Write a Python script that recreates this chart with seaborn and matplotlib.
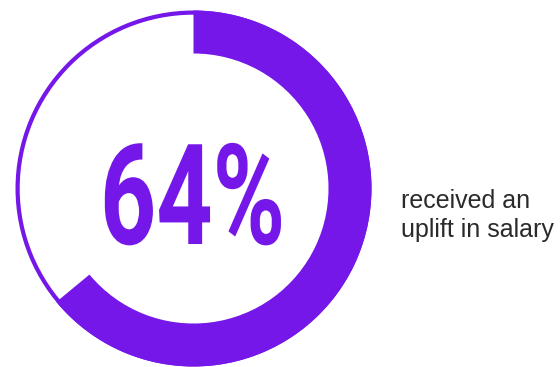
import matplotlib
matplotlib.use("Agg")
import matplotlib.pyplot as plt
import matplotlib.patheffects as pe
from matplotlib.transforms import Affine2D
import seaborn as sns

# ---- data ----
share = [64, 36]            # received uplift / did not
big_label = "64%"
caption_lines = ["received an", "uplift in salary"]

PURPLE = "#7517e8"
GREY = "#2a2a2a"

sns.set_style("white")
plt.rcParams["font.family"] = ["Liberation Sans", "DejaVu Sans"]


class Condensed(pe.AbstractPathEffect):
    """squeeze glyphs horizontally (no condensed face installed)"""
    def __init__(self, sx):
        super().__init__()
        self.sx = sx

    def draw_path(self, renderer, gc, tpath, affine, rgbFace=None):
        affine = Affine2D().scale(self.sx, 1) + affine
        renderer.draw_path(gc, tpath, affine, rgbFace)


W, H = 560, 367
fig = plt.figure(figsize=(W / 100, H / 100), dpi=100)

# circle centre and radius in pixels (from top-left)
cx, cy, r = 193.5, 188.5, 178
ax = fig.add_axes([(cx - r) / W, (H - cy - r) / H, 2 * r / W, 2 * r / H])

# thin ring for the remainder
ax.pie([100], colors=[PURPLE], radius=1, startangle=90, counterclock=False,
       wedgeprops=dict(width=4.2 / r, linewidth=0))
# thick arc for the share
ax.pie(share, colors=[PURPLE, (0, 0, 0, 0)], radius=1, startangle=90,
       counterclock=False, wedgeprops=dict(width=43 / r, linewidth=0))
ax.set_xlim(-1, 1)
ax.set_ylim(-1, 1)
ax.set_aspect("equal")
ax.axis("off")

fig.text(100 / W, 1 - 244 / H, big_label, ha="left", va="baseline",
         fontsize=101, fontweight="bold", color=PURPLE,
         family=["Roboto", "DejaVu Sans"],
         path_effects=[Condensed(0.70)])

fig.text(401 / W, 1 - 208 / H, caption_lines[0], ha="left", va="baseline",
         fontsize=18, color=GREY)
fig.text(401 / W, 1 - 237 / H, caption_lines[1], ha="left", va="baseline",
         fontsize=18, color=GREY)

fig.savefig("out.png", dpi=100)
